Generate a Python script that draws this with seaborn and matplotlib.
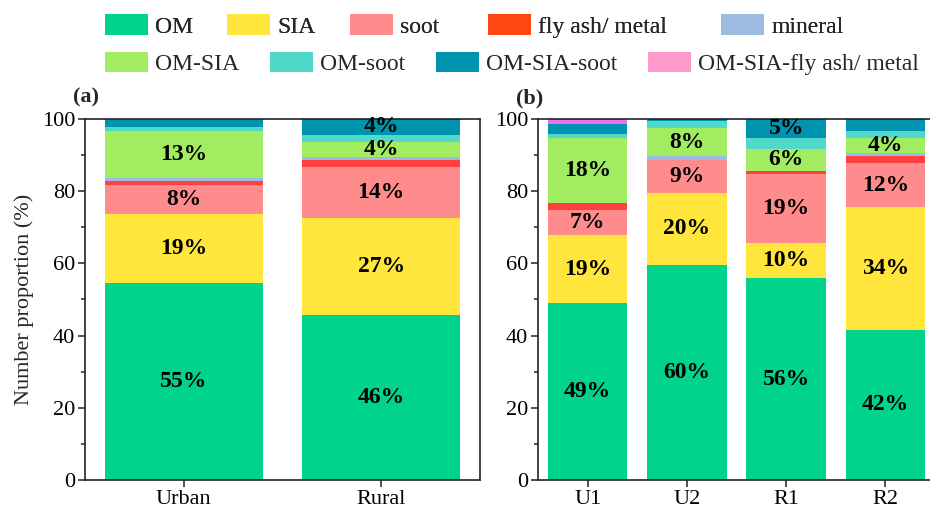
import numpy as np
import pandas as pd
import matplotlib.pyplot as plt
import seaborn as sns
from matplotlib.patches import Patch

# particle classes, bottom -> top of each stack
classes = ['OM', 'SIA', 'soot', 'fly ash/ metal', 'mineral',
           'OM-SIA', 'OM-soot', 'OM-SIA-soot', 'OM-SIA-fly ash/ metal']
bar_colors = ['#00D38A', '#FFE53C', '#FF8C8C', '#FF4040', '#9DBBE0',
              '#A2EC62', '#50D8C8', '#0093AF', '#F070F0']
legend_colors = ['#00D38A', '#FFE53C', '#FF8C8C', '#FF4713', '#9DBBE0',
                 '#A2EC62', '#50D8C8', '#0093AF', '#FF9ACD']

# panel (a)
sites_a = ['Urban', 'Rural']
urban = [54.6, 19.0, 8.1, 1.1, 0.9, 13.0, 1.1, 1.8, 0.4]
rural = [45.6, 27.1, 13.9, 2.0, 1.0, 4.0, 2.0, 4.4, 0.0]

# panel (b)
sites_b = ['U1', 'U2', 'R1', 'R2']
u1 = [49.0, 18.8, 7.0, 2.0, 0.0, 17.9, 1.2, 2.6, 1.5]
u2 = [59.5, 20.1, 9.0, 0.0, 1.1, 7.8, 1.8, 0.7, 0.0]
r1 = [55.9, 9.8, 19.0, 0.9, 0.0, 6.1, 3.0, 5.3, 0.0]
r2 = [41.6, 34.1, 12.0, 2.1, 0.8, 4.2, 1.9, 3.3, 0.0]

sns.set_style('ticks')
plt.rcParams['font.family'] = ['Liberation Serif', 'DejaVu Serif']


def stacked(ax, sites, rows):
    df = pd.DataFrame(rows, index=sites, columns=classes)
    cum = df.cumsum(axis=1)
    # draw the cumulative totals from the top layer down so each layer shows
    for k in range(len(classes) - 1, -1, -1):
        sns.barplot(x=sites, y=cum.iloc[:, k].values, color=bar_colors[k],
                    saturation=1, width=0.8, linewidth=0, ax=ax)
    for i, s in enumerate(sites):
        bottom = 0
        for c in classes:
            v = df.loc[s, c]
            if v >= 3.5:
                ax.text(i, bottom + v / 2, f'{round(v)}%', ha='center',
                        va='center', fontsize=17, fontweight='bold',
                        color='black')
            bottom += v
    ax.set_xlim(-0.5, len(sites) - 0.5)
    ax.set_ylim(0, 100)
    ax.set_yticks(np.arange(0, 101, 20))
    ax.set_yticks(np.arange(10, 100, 20), minor=True)
    ax.tick_params(axis='both', which='major', labelsize=16, length=5,
                   width=1.1, direction='out', color='#222222',
                   labelcolor='black')
    ax.tick_params(axis='y', which='minor', length=3, width=1.1,
                   color='#222222')
    ax.tick_params(axis='x', pad=2)
    ax.tick_params(axis='y', pad=2)
    for sp in ax.spines.values():
        sp.set_visible(True)
        sp.set_linewidth(1.2)
        sp.set_color('#222222')
    ax.set_xlabel('')


fig = plt.figure(figsize=(9.3, 5.11), dpi=100)
ax_a = fig.add_axes([0.0914, 0.0607, 0.4247, 0.7065])
ax_b = fig.add_axes([0.5785, 0.0607, 0.427, 0.7065])

stacked(ax_a, sites_a, [urban, rural])
stacked(ax_b, sites_b, [u1, u2, r1, r2])

ax_a.set_ylabel('Number proportion (%)', fontsize=16, labelpad=6)
ax_b.set_ylabel('')

fig.text(0.0925, 0.81, '(a)', ha='center', va='center', fontsize=16, fontweight='bold')
fig.text(0.569, 0.808, '(b)', ha='center', va='center', fontsize=16, fontweight='bold')

handles = [Patch(facecolor=c, edgecolor='none') for c in legend_colors]
leg_kw = dict(loc='center left', frameon=False, fontsize=17, borderpad=0,
              borderaxespad=0, handlelength=1.82, handleheight=0.93,
              handletextpad=0.3)
leg1 = fig.legend(handles[:3], classes[:3], ncol=3, columnspacing=1.45,
                  bbox_to_anchor=(0.113, 0.949), **leg_kw)
fig.add_artist(leg1)
leg2 = fig.legend(handles[3:5], classes[3:5], ncol=2, columnspacing=2.3,
                  bbox_to_anchor=(0.5247, 0.949), **leg_kw)
fig.add_artist(leg2)
fig.legend(handles[5:], classes[5:], ncol=4, columnspacing=1.3,
           bbox_to_anchor=(0.113, 0.875), **leg_kw)

fig.savefig('out.png', dpi=100)
